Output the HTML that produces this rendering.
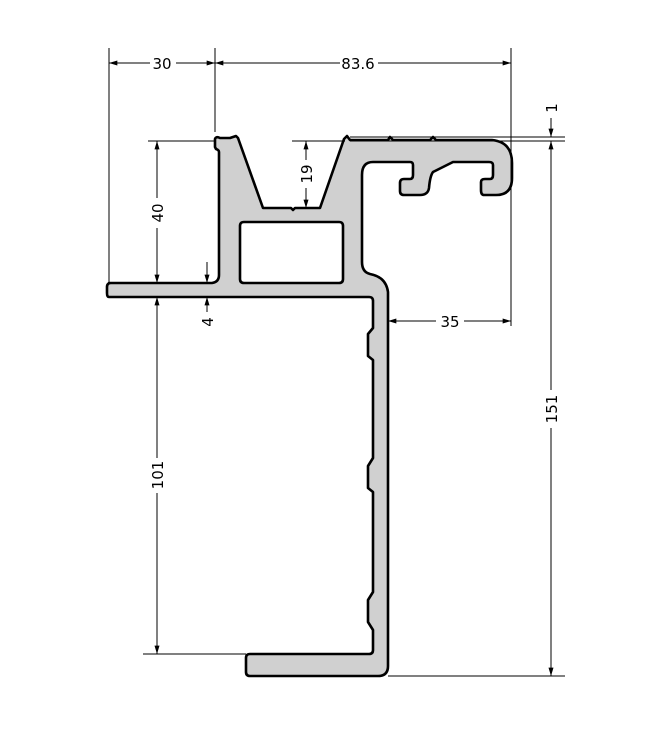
<!DOCTYPE html>
<html><head><meta charset="utf-8"><style>
html,body{margin:0;padding:0;background:#fff;}
svg{display:block}
text{font-family:"DejaVu Sans","Liberation Sans",sans-serif;font-size:15px;fill:#000}
</style></head><body>
<svg width="651" height="740" viewBox="0 0 651 740" xmlns="http://www.w3.org/2000/svg">
<defs>
<marker id="a" viewBox="0 0 10 6" refX="10" refY="3" markerWidth="12" markerHeight="5" orient="auto-start-reverse" markerUnits="userSpaceOnUse"><path d="M0,0 L10,3 L0,6 z" fill="#000"/></marker>
</defs>
<!-- profile -->
<path fill="#d0d0d0" stroke="#000" stroke-width="2.6" stroke-linejoin="round" fill-rule="evenodd" d="
M109,283 L212,283 Q219,282 219,275 L219,152 Q219,150 216,149 L215,147 L215,139 Q216,136 220,138 L230,138 L236,136 L238,138 L263,208 L291,208 L293,210 L295,208 L320,208 L344,139 L347,136 L350,140 L388,140 L390,137 L393,140 L430,140 L433,137 L436,140 L492,140 Q512,142 512,163 L512,178 Q512,195 496,195 L484,195 Q481,195 481,190 L481,182 Q481,179 485,179 L490,179 Q493,179 493,175 L493,165 Q493,162 489,162 L453,162 L433,172 Q430,176 429,188 Q428,195 420,195 L404,195 Q400,195 400,191 L400,183 Q400,179 404,179 L410,179 Q413,179 413,175 L413,165 Q413,162 410,162 L373,162 Q362,162 362,175 L362,262 Q362,272 370,274 Q386,277 388,292 L388,666 Q388,676 378,676 L250,676 Q246,676 246,672 L246,658 Q246,654 250,654 L369,654 Q373,654 373,650 L373,630 L368,622 L368,600 L373,592 L373,492 L368,488 L368,466 L373,458 L373,360 L368,356 L368,334 L373,328 L373,301 Q373,297 369,297 L109,297 Q107,297 107,293 L107,287 Q107,283 111,283 Z
M244,222 L339,222 Q343,222 343,226 L343,279 Q343,283 339,283 L244,283 Q240,283 240,279 L240,226 Q240,222 244,222 Z"/>
<!-- dimension lines -->
<g stroke="#000" stroke-width="1" fill="none">
<line x1="109" y1="48" x2="109" y2="283"/>
<line x1="215" y1="48" x2="215" y2="132"/>
<line x1="511" y1="48" x2="511" y2="326"/>
<line x1="109" y1="63" x2="150" y2="63" marker-start="url(#a)"/>
<line x1="176" y1="63" x2="215" y2="63" marker-end="url(#a)"/>
<line x1="215" y1="63" x2="340" y2="63" marker-start="url(#a)"/>
<line x1="378" y1="63" x2="511" y2="63" marker-end="url(#a)"/>
<line x1="148" y1="141" x2="215" y2="141"/>
<line x1="157" y1="141" x2="157" y2="198" marker-start="url(#a)"/>
<line x1="157" y1="228" x2="157" y2="283" marker-end="url(#a)"/>
<line x1="207" y1="262" x2="207" y2="283" marker-end="url(#a)"/>
<line x1="207" y1="297" x2="207" y2="312" marker-start="url(#a)"/>
<line x1="157" y1="297" x2="157" y2="458" marker-start="url(#a)"/>
<line x1="157" y1="493" x2="157" y2="654" marker-end="url(#a)"/>
<line x1="143" y1="654" x2="246" y2="654"/>
<line x1="292" y1="141" x2="345" y2="141"/>
<line x1="306" y1="141" x2="306" y2="160" marker-start="url(#a)"/>
<line x1="306" y1="188" x2="306" y2="208" marker-end="url(#a)"/>
<line x1="388" y1="321" x2="436" y2="321" marker-start="url(#a)"/>
<line x1="464" y1="321" x2="511" y2="321" marker-end="url(#a)"/>
<line x1="350" y1="137" x2="565" y2="137"/>
<line x1="350" y1="141" x2="565" y2="141"/>
<line x1="551" y1="118" x2="551" y2="137" marker-end="url(#a)"/>
<line x1="551" y1="141" x2="551" y2="390" marker-start="url(#a)"/>
<line x1="551" y1="428" x2="551" y2="676" marker-end="url(#a)"/>
<line x1="388" y1="676" x2="565" y2="676"/>
</g>
<text x="162" y="69" text-anchor="middle">30</text>
<text x="358" y="69" text-anchor="middle">83.6</text>
<text x="450" y="327" text-anchor="middle">35</text>
<text transform="translate(163,213) rotate(-90)" text-anchor="middle">40</text>
<text transform="translate(312,174) rotate(-90)" text-anchor="middle">19</text>
<text transform="translate(213,322) rotate(-90)" text-anchor="middle">4</text>
<text transform="translate(163,475) rotate(-90)" text-anchor="middle">101</text>
<text transform="translate(557,108) rotate(-90)" text-anchor="middle">1</text>
<text transform="translate(557,409) rotate(-90)" text-anchor="middle">151</text>
</svg>
</body></html>
